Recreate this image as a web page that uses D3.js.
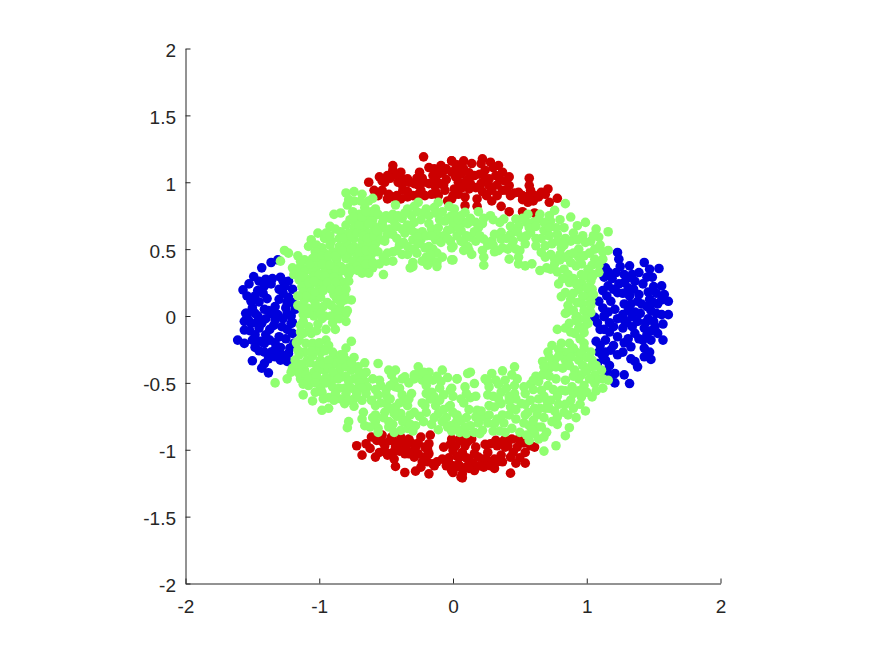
<!DOCTYPE html>
<html><head><meta charset="utf-8">
<script src="https://cdn.jsdelivr.net/npm/d3@7"></script>
<style>html,body{margin:0;padding:0;background:#fff;overflow:hidden}</style>
</head><body><svg id="c" width="875" height="656"></svg>
<script>
const xTicks=[-2,-1,0,1,2];
const yTicks=[-2,-1.5,-1,-0.5,0,0.5,1,1.5,2];
const bluePoints=[[-1.43,0.36],[-1.36,0.40],[-1.31,0.42],[-1.49,0.295],[-1.525,0.24],[-1.57,0.195],[-1.40,0.275],[-1.29,0.29],[-1.23,0.26],[-1.46,0.19],[-1.41,0.225],[-1.30,0.20],[-1.20,0.20],[-1.51,0.11],[-1.45,0.105],[-1.30,0.125],[-1.23,0.14],[-1.18,0.05],[-1.25,0.06],[-1.54,0.02],[-1.46,0.00],[-1.38,0.04],[-1.31,0.01],[-1.21,0.00],[-1.55,0.02],[-1.48,0.02],[-1.36,0.02],[-1.24,0.02],[-1.51,-0.055],[-1.56,-0.105],[-1.43,-0.055],[-1.34,-0.07],[-1.21,-0.055],[-1.48,-0.14],[-1.40,-0.14],[-1.30,-0.155],[-1.61,-0.18],[-1.56,-0.205],[-1.48,-0.235],[-1.41,-0.27],[-1.36,-0.27],[-1.29,-0.235],[-1.19,-0.205],[-1.33,-0.305],[-1.23,-0.28],[-1.24,-0.34],[-1.50,-0.335],[-1.41,-0.355],[-1.43,-0.39],[-1.38,-0.425],[-1.41,-0.205],[-1.20,-0.13],[-1.29,-0.33],
[1.23,0.475],[1.24,0.425],[1.14,0.36],[1.32,0.375],[1.43,0.40],[1.47,0.35],[1.54,0.355],[1.49,0.29],[1.13,0.29],[1.22,0.325],[1.28,0.31],[1.39,0.325],[1.56,0.225],[1.58,0.16],[1.42,0.24],[1.24,0.24],[1.16,0.225],[1.12,0.19],[1.31,0.21],[1.61,0.11],[1.53,0.09],[1.47,0.125],[1.39,0.16],[1.32,0.15],[1.23,0.175],[1.09,0.11],[1.18,0.11],[1.28,0.09],[1.41,0.09],[1.61,0.01],[1.56,0.01],[1.48,0.04],[1.36,0.03],[1.27,0.01],[1.13,0.00],[1.21,0.05],[1.06,-0.01],[1.13,-0.005],[1.23,-0.02],[1.34,-0.005],[1.46,-0.02],[1.57,-0.06],[1.10,-0.10],[1.34,-0.08],[1.43,-0.09],[1.51,-0.08],[1.57,-0.18],[1.23,-0.155],[1.14,-0.18],[1.07,-0.19],[1.31,-0.17],[1.39,-0.17],[1.48,-0.18],[1.09,-0.27],[1.18,-0.255],[1.27,-0.27],[1.47,-0.27],[1.48,-0.325],[1.33,-0.32],[1.38,-0.38],[1.43,-0.305],[1.17,-0.37],[1.21,-0.43],[1.17,-0.47],[1.21,-0.50],[1.28,-0.44],[1.32,-0.505],[1.08,-0.355],[1.14,-0.33],[1.30,-0.05],[1.45,-0.14],[1.20,-0.08],
[-1.35,0.28],[-1.27,0.26],[-1.36,0.24],[-1.26,0.22],[-1.45,0.26],[-1.42,0.17],[-1.48,0.15],[-1.54,0.15],[-1.39,0.13],[-1.27,0.17],[-1.24,0.10],[-1.33,0.07],[-1.41,0.05],[-1.50,0.06],[-1.20,0.10],[-1.53,-0.03],[-1.47,-0.05],[-1.40,-0.02],[-1.33,-0.03],[-1.27,-0.02],[-1.24,-0.10],[-1.28,-0.08],[-1.37,-0.10],[-1.45,-0.09],[-1.52,-0.11],[-1.50,-0.18],[-1.44,-0.19],[-1.37,-0.18],[-1.33,-0.20],[-1.25,-0.17],[-1.22,-0.24],[-1.33,-0.25],[-1.45,-0.26],[-1.38,-0.32],[-1.29,-0.28],[-1.20,-0.05],[-1.25,-0.30],[-1.56,-0.04],
[1.16,0.33],[1.19,0.28],[1.25,0.37],[1.30,0.28],[1.34,0.31],[1.28,0.25],[1.36,0.26],[1.45,0.29],[1.50,0.22],[1.52,0.17],[1.46,0.18],[1.35,0.20],[1.20,0.20],[1.15,0.15],[1.27,0.17],[1.33,0.09],[1.38,0.11],[1.45,0.07],[1.50,0.10],[1.56,0.12],[1.12,0.06],[1.16,0.03],[1.31,0.04],[1.40,0.02],[1.52,0.02],[1.44,-0.05],[1.38,-0.04],[1.28,-0.03],[1.17,-0.05],[1.08,-0.05],[1.13,-0.10],[1.17,-0.12],[1.27,-0.09],[1.36,-0.13],[1.48,-0.11],[1.53,-0.13],[1.50,-0.04],[1.42,-0.18],[1.28,-0.20],[1.20,-0.22],[1.10,-0.22],[1.14,-0.27],[1.23,-0.29],[1.33,-0.23],[1.43,-0.24],[1.36,-0.34],[1.15,-0.41],[1.12,-0.30]];
const redPoints=[[-0.22,1.19],[-0.63,1.00],[-0.55,1.04],[-0.49,1.05],[-0.45,1.125],[-0.45,1.09],[-0.39,1.075],[-0.34,1.025],[-0.41,1.00],[-0.51,1.00],[-0.59,0.94],[-0.53,0.94],[-0.45,0.89],[-0.375,0.94],[-0.30,0.90],[-0.24,0.94],[-0.25,1.075],[-0.18,1.11],[-0.09,1.125],[-0.01,1.16],[-0.11,1.06],[-0.01,1.075],[-0.18,0.99],[-0.10,0.99],[-0.21,0.90],[-0.11,0.90],[-0.04,0.86],[0.01,0.95],[-0.06,0.94],[-0.29,0.99],[0.04,1.00],[0.05,1.09],[-0.49,0.875],[-0.39,0.875],
[0.08,1.16],[0.14,1.14],[0.22,1.175],[0.21,1.14],[0.28,1.15],[0.34,1.125],[0.37,1.075],[0.42,1.04],[0.32,1.05],[0.16,1.05],[0.06,1.06],[0.27,1.025],[0.42,0.975],[0.57,1.03],[0.57,0.975],[0.71,0.95],[0.78,0.88],[0.66,0.925],[0.72,0.85],[0.57,0.90],[0.49,0.925],[0.56,0.85],[0.37,0.94],[0.29,0.94],[0.29,0.86],[0.43,0.90],[0.36,0.82],[0.42,0.78],[0.52,0.78],[0.61,0.77],[0.18,0.875],[0.09,0.89],[0.09,0.825],[0.18,0.82],[0.02,0.94],[0.13,0.99],[0.21,0.99],[0.06,0.99],[-0.01,1.16],[-0.01,0.875],[0.27,0.975],[0.61,0.90],
[-0.61,-0.905],[-0.53,-0.89],[-0.46,-0.905],[-0.39,-0.905],[-0.33,-0.92],[-0.24,-0.905],[-0.17,-0.89],[-0.01,-0.92],[0.05,-0.92],[-0.72,-0.97],[-0.65,-0.955],[-0.62,-0.99],[-0.68,-1.04],[-0.58,-1.055],[-0.51,-0.97],[-0.50,-1.02],[-0.43,-0.98],[-0.35,-0.99],[-0.29,-1.005],[-0.21,-0.98],[-0.18,-0.955],[-0.44,-1.07],[-0.43,-1.125],[-0.49,-1.04],[-0.36,-1.17],[-0.28,-1.16],[-0.24,-1.13],[-0.18,-1.18],[-0.21,-1.055],[-0.15,-1.105],[-0.08,-1.07],[-0.05,-1.12],[-0.07,-0.98],[0.00,-1.17],[0.06,-1.205],[0.05,-1.055],[0.00,-1.005],[-0.29,-1.055],[-0.36,-1.03],
[0.06,-0.93],[0.14,-0.92],[0.32,-0.93],[0.39,-0.92],[0.49,-0.92],[0.58,-0.97],[0.61,-0.98],[0.54,-1.02],[0.48,-0.98],[0.39,-0.98],[0.28,-0.955],[0.26,-1.02],[0.17,-0.98],[0.09,-0.97],[0.03,-1.05],[0.12,-1.07],[0.19,-1.055],[0.31,-1.07],[0.36,-1.04],[0.43,-1.055],[0.47,-1.10],[0.54,-1.10],[0.23,-1.13],[0.31,-1.14],[0.16,-1.155],[0.43,-1.175],[0.02,-1.13],[0.07,-1.18],[0.07,-1.21],[-0.01,-1.155],[0.23,-1.07],[0.11,-1.12],
[-0.47,1.03],[-0.53,1.01],[-0.42,1.05],[-0.37,1.02],[-0.33,1.00],[-0.38,0.98],[-0.34,0.93],[-0.27,1.03],[-0.23,1.03],[-0.22,1.00],[-0.26,0.98],[-0.14,1.10],[-0.15,1.05],[-0.13,1.02],[-0.08,1.07],[-0.05,1.10],[-0.05,1.02],[-0.14,0.98],[-0.07,0.98],[-0.13,0.93],[-0.16,0.91],[-0.26,0.91],[-0.34,0.89],[0.00,0.90],[0.04,0.91],[0.02,1.04],[0.02,1.10],[0.03,1.13],[0.08,1.10],[0.12,1.07],[0.20,1.06],[0.24,1.09],[0.30,1.11],[0.35,1.02],[0.39,1.01],[0.33,0.98],[0.24,1.03],[0.22,0.93],[0.25,0.90],[0.33,0.90],[0.40,0.94],[0.46,0.92],[0.52,0.90],[0.52,0.87],[0.60,0.86],[0.64,0.89],[0.69,0.91],[0.17,0.96],[0.12,0.95],[0.07,0.96],[0.12,1.03],[0.10,1.01],[0.58,0.94],[-0.48,0.91],[-0.42,0.90],[-0.56,0.90],
[-0.57,-0.93],[-0.53,-0.94],[-0.44,-0.94],[-0.40,-0.95],[-0.36,-0.94],[-0.31,-0.95],[-0.26,-0.95],[-0.28,-0.98],[-0.40,-1.01],[-0.33,-1.03],[-0.26,-1.03],[-0.19,-1.00],[-0.18,-1.03],[-0.45,-1.02],[-0.55,-1.02],[-0.47,-0.93],[-0.19,-1.09],[-0.23,-1.09],[-0.12,-1.09],[-0.02,-0.96],[-0.03,-1.10],[0.00,-1.12],[0.04,-1.11],[0.06,-1.13],[0.10,-1.06],[0.07,-1.02],[0.11,-0.94],[0.16,-1.03],[0.24,-0.96],[0.26,-1.08],[0.33,-0.97],[0.37,-0.94],[0.41,-0.97],[0.44,-0.92],[0.53,-0.95],[0.45,-1.02],[0.37,-1.09],[0.33,-1.09],[0.28,-1.12],[0.20,-1.12],[0.15,-1.10],[0.12,-1.14],[0.02,-0.97],[-0.03,-1.06],[-0.14,-1.12],[0.50,-1.06]];
const greenPoints=[[-0.80,0.92],[-0.74,0.93],[-0.68,0.91],[-0.60,0.88],[-0.78,0.87],[-0.63,0.86],[-0.79,0.83],[-0.66,0.81],[-0.58,0.80],[-0.43,0.83],[-0.26,0.85],[-0.11,0.85],[-0.34,0.80],[-0.20,0.80],[-0.14,0.81],[-0.29,0.82],[-0.89,0.76],[-0.84,0.77],[-0.75,0.78],[-0.70,0.76],[-0.63,0.75],[-0.50,0.75],[-0.31,0.75],[-0.22,0.77],[-0.01,0.75],[-0.04,0.73],[-0.67,0.71],[-0.60,0.72],[-0.44,0.71],[-0.38,0.73],[-0.47,0.73],[-0.06,0.71],[-0.18,0.69],[-0.53,0.69],[-0.72,0.70],[-0.92,0.67],[-0.80,0.68],[-0.74,0.66],[-0.66,0.66],[-0.59,0.67],[-0.52,0.66],[-0.47,0.65],[-0.16,0.65],[-0.11,0.66],[-1.01,0.62],[-0.84,0.63],[-0.78,0.62],[-0.70,0.63],[-0.63,0.62],[-0.56,0.62],[-0.49,0.61],[-0.36,0.62],[-0.28,0.62],[-0.23,0.63],[-0.12,0.61],[-0.04,0.64],[-0.07,0.60],[-1.06,0.57],[-0.96,0.58],[-0.91,0.56],[-0.85,0.58],[-0.79,0.56],[-0.74,0.58],[-0.68,0.56],[-0.61,0.57],[-0.58,0.54],[-0.30,0.57],[-0.24,0.57],[-0.13,0.57],[-0.09,0.55],[-0.02,0.56],[-1.08,0.52],[-1.02,0.53],[-0.98,0.51],[-0.92,0.53],[-0.85,0.52],[-0.80,0.53],[-0.74,0.52],[-0.69,0.51],[-0.64,0.53],[-0.40,0.53],[-0.18,0.52],[-0.21,0.51],[0.00,0.52],[-1.26,0.49],[-1.23,0.47],[-1.16,0.45],[-1.03,0.48],[-0.96,0.47],[-0.90,0.48],[-0.85,0.46],[-0.78,0.47],[-0.72,0.46],[-0.66,0.46],[-0.61,0.46],[-0.45,0.48],[-0.38,0.46],[-0.34,0.46],[-0.27,0.47],[-0.20,0.44],[-1.29,0.41],[-1.11,0.42],[-1.05,0.43],[-1.00,0.42],[-0.94,0.41],[-0.87,0.42],[-0.80,0.43],[-0.75,0.41],[-0.69,0.41],[-0.63,0.42],[-0.50,0.41],[-0.45,0.41],[-0.30,0.40],[-0.23,0.41],[-0.15,0.41],[-0.12,0.40],[0.00,0.42],[-1.20,0.36],[-1.14,0.37],[-1.08,0.36],[-1.02,0.37],[-0.96,0.36],[-0.90,0.37],[-0.84,0.37],[-0.78,0.36],[-0.72,0.37],[-0.66,0.36],[-0.60,0.36],[-0.30,0.37],[-0.19,0.38],[-0.12,0.37],[-0.32,0.36],[-1.19,0.31],[-1.11,0.33],[-1.05,0.33],[-0.92,0.32],[-0.86,0.31],[-0.78,0.31],[-0.68,0.32],[-0.63,0.32],[-0.52,0.31],[-1.15,0.27],[-1.10,0.28],[-0.98,0.27],[-0.92,0.28],[-0.85,0.27],[-0.82,0.25],[-0.78,0.26],[-1.13,0.22],[-1.07,0.22],[-1.01,0.24],[-0.96,0.23],[-0.87,0.23],[-1.12,0.18],[-1.06,0.18],[-1.00,0.19],[-0.81,0.16],[-0.76,0.12],[-0.94,0.10],[-1.09,0.06],[-1.11,0.12],[-1.05,0.13],[-0.99,0.14],[-0.87,0.13],[-0.81,0.12],[-1.06,0.05],[-1.01,0.05],[-0.88,0.05],[-0.84,0.05],[-0.79,0.04],[-1.12,0.01],[-1.04,0.00],[-0.96,0.00],
[-1.11,0.01],[-0.91,0.00],[-0.80,0.02],[-0.80,-0.04],[-1.14,-0.07],[-1.06,-0.13],[-0.95,-0.10],[-0.88,-0.10],[-1.01,-0.06],[-1.10,-0.205],[-1.05,-0.205],[-0.95,-0.18],[-0.93,-0.22],[-0.76,-0.19],[-0.80,-0.24],[-1.16,-0.255],[-1.11,-0.27],[-0.99,-0.27],[-0.89,-0.29],[-0.74,-0.31],[-1.18,-0.33],[-1.09,-0.33],[-0.99,-0.33],[-0.89,-0.355],[-0.80,-0.33],[-0.66,-0.35],[-0.71,-0.38],[-0.56,-0.355],[-1.20,-0.39],[-1.11,-0.405],[-1.04,-0.42],[-0.96,-0.405],[-0.86,-0.42],[-0.76,-0.405],[-0.65,-0.42],[-0.48,-0.405],[-0.43,-0.405],[-0.26,-0.38],[-0.18,-0.42],[-0.08,-0.405],[-1.24,-0.47],[-1.33,-0.50],[-1.14,-0.47],[-1.06,-0.47],[-0.99,-0.48],[-0.90,-0.47],[-0.83,-0.455],[-0.74,-0.47],[-0.66,-0.49],[-0.46,-0.44],[-0.44,-0.49],[-0.36,-0.455],[-0.29,-0.44],[-0.23,-0.48],[-0.15,-0.48],[-0.09,-0.49],[-0.04,-0.46],[0.03,-0.47],[-1.08,-0.52],[-0.99,-0.54],[-0.90,-0.53],[-0.81,-0.54],[-0.71,-0.54],[-0.64,-0.53],[-0.54,-0.52],[-0.43,-0.53],[-0.20,-0.52],[-0.16,-0.57],[-0.01,-0.54],[-1.12,-0.59],[-1.05,-0.635],[-0.93,-0.61],[-0.84,-0.62],[-0.74,-0.62],[-0.65,-0.58],[-0.56,-0.59],[-0.50,-0.59],[-0.38,-0.59],[-0.23,-0.65],[-0.14,-0.605],[0.00,-0.60],[-0.81,-0.655],[-0.74,-0.675],[-0.58,-0.67],[-0.50,-0.655],[-0.43,-0.68],[-0.34,-0.67],[-0.13,-0.67],[-0.03,-0.68],[-0.36,-0.63],[-0.98,-0.705],[-0.93,-0.69],[-0.67,-0.72],[-0.58,-0.74],[-0.51,-0.72],[-0.39,-0.73],[-0.29,-0.72],[-0.20,-0.72],[-0.11,-0.73],[0.03,-0.74],[-0.78,-0.79],[-0.79,-0.835],[-0.66,-0.82],[-0.68,-0.77],[-0.58,-0.79],[-0.48,-0.79],[-0.375,-0.79],[-0.28,-0.82],[-0.08,-0.79],[-0.04,-0.83],[0.02,-0.80],[-0.56,-0.84],[-0.48,-0.83],[-0.39,-0.855],[-0.34,-0.84],[-0.62,-0.83],
[0.84,0.02],[0.93,-0.005],[1.03,0.025],[0.84,-0.09],[0.91,-0.13],[0.98,-0.08],[0.98,-0.125],[0.87,-0.055],[1.01,-0.055],[0.81,-0.205],[0.87,-0.205],[0.98,-0.205],[0.98,-0.24],[0.71,-0.27],[0.83,-0.27],[0.92,-0.27],[1.03,-0.27],[0.67,-0.34],[0.76,-0.33],[0.84,-0.33],[0.94,-0.33],[1.04,-0.33],[1.11,-0.405],[1.03,-0.38],[0.72,-0.39],[0.82,-0.39],[0.91,-0.405],[0.96,-0.44],[0.67,-0.44],[0.77,-0.47],[0.84,-0.48],[0.58,-0.51],[0.64,-0.49],[1.16,-0.48],[1.12,-0.54],[1.06,-0.505],[0.98,-0.52],[0.89,-0.53],[0.81,-0.555],[0.71,-0.52],[0.66,-0.555],[1.04,-0.605],[0.96,-0.605],[0.88,-0.63],[0.73,-0.63],[0.64,-0.62],[0.54,-0.58],[0.46,-0.58],[0.36,-0.57],[0.26,-0.59],[0.13,-0.61],[0.99,-0.71],[0.92,-0.76],[0.83,-0.72],[0.78,-0.755],[0.69,-0.69],[0.61,-0.69],[0.51,-0.655],[0.43,-0.68],[0.36,-0.655],[0.27,-0.67],[0.12,-0.70],[0.18,-0.705],[-0.02,-0.67],[0.78,-0.81],[0.87,-0.835],[0.84,-0.895],[0.77,-0.97],[0.68,-1.01],[0.68,-0.905],[0.63,-0.83],[0.57,-0.82],[0.54,-0.74],[0.63,-0.74],[0.42,-0.74],[0.33,-0.77],[0.23,-0.755],[0.17,-0.755],[0.03,-0.75],[-0.02,-0.82],[0.09,-0.83],[0.22,-0.855],[0.39,-0.87],[0.57,-0.93],[0.64,-0.92],[0.61,-0.88],[0.31,-0.805],[0.13,-0.82],[0.03,-0.84],[0.16,-0.87],[0.46,-0.38],[0.37,-0.41],[0.29,-0.43],[0.24,-0.47],[0.13,-0.42],[0.11,-0.43],[0.03,-0.47],[0.09,-0.53],[0.16,-0.505],[0.26,-0.49],[0.32,-0.48],[0.39,-0.48],[0.48,-0.47],[0.44,-0.44],[-0.02,-0.555],[0.68,-0.43],[0.73,-0.37],
[0.84,0.84],[0.76,0.79],[0.88,0.74],[0.99,0.70],[1.07,0.65],[1.16,0.63],[1.09,0.59],[0.93,0.675],[0.83,0.66],[0.73,0.71],[0.64,0.725],[0.56,0.76],[0.47,0.725],[0.38,0.725],[0.28,0.75],[0.19,0.78],[0.08,0.70],[0.17,0.70],[0.01,0.80],[0.01,0.75],[0.09,0.775],[0.22,0.69],[0.13,0.59],[0.23,0.575],[0.08,0.55],[0.36,0.625],[0.43,0.61],[0.51,0.59],[0.58,0.625],[0.68,0.64],[0.78,0.61],[0.88,0.56],[0.97,0.60],[1.03,0.56],[1.16,0.49],[-0.01,0.65],[-0.01,0.51],[0.36,0.575],[0.12,0.49],[0.14,0.46],[0.22,0.49],[0.31,0.48],[0.37,0.51],[0.44,0.525],[0.50,0.49],[0.62,0.525],[0.69,0.525],[0.81,0.51],[0.94,0.50],[1.06,0.50],[0.87,0.46],[-0.01,0.42],[0.23,0.38],[0.23,0.44],[0.42,0.425],[0.49,0.44],[0.49,0.39],[0.54,0.375],[0.59,0.39],[0.66,0.475],[0.69,0.44],[0.76,0.425],[0.84,0.44],[0.94,0.44],[1.06,0.425],[1.12,0.425],[0.65,0.34],[0.73,0.35],[0.83,0.35],[0.92,0.375],[1.01,0.35],[1.09,0.325],[0.79,0.24],[0.87,0.25],[0.96,0.25],[1.03,0.26],[1.04,0.20],[0.94,0.20],[0.81,0.145],[0.84,0.175],[0.93,0.10],[1.01,0.15],[0.88,0.125],[0.85,0.025],[0.92,-0.01],[1.02,0.03],
[-1.14,0.41],[-1.17,0.33],[-1.13,0.30],[-1.07,0.39],[-1.03,0.44],[-0.98,0.45],[-0.93,0.45],[-0.88,0.45],[-0.83,0.49],[-0.76,0.50],[-0.70,0.48],[-0.65,0.49],[-0.60,0.50],[-0.56,0.48],[-0.98,0.39],[-0.92,0.38],[-0.87,0.34],[-0.82,0.34],[-0.76,0.34],[-0.71,0.34],[-0.65,0.39],[-0.60,0.40],[-0.55,0.39],[-1.04,0.30],[-1.00,0.31],[-0.96,0.30],[-0.89,0.29],[-1.08,0.25],[-1.04,0.26],[-0.94,0.25],[-0.88,0.25],[-1.10,0.15],[-1.16,0.15],[-1.16,0.08],[-1.13,0.06],[-1.03,0.09],[-0.97,0.07],[-0.91,0.08],[-0.84,0.10],[-0.89,0.16],[-0.84,0.15],[-1.03,0.18],[-0.97,0.19],[-0.91,0.20],[-0.85,0.19],[-0.80,0.20],[-0.99,0.02],[-1.08,0.02],[-0.86,0.00],
[-0.95,0.62],[-0.92,0.60],[-0.88,0.65],[-0.82,0.58],[-0.76,0.60],[-0.72,0.62],[-0.67,0.60],[-0.64,0.58],[-0.59,0.60],[-0.54,0.57],[-0.51,0.56],[-0.70,0.68],[-0.63,0.69],[-0.57,0.64],[-0.77,0.72],[-0.74,0.74],[-0.68,0.74],[-0.61,0.78],[-0.65,0.78],[-0.74,0.86],[-0.69,0.86],[-0.56,0.76],[-0.52,0.72],[-0.45,0.76],[-0.41,0.75],[-0.36,0.77],[-0.27,0.78],[-0.18,0.75],[-0.13,0.77],[-0.08,0.78],[-0.03,0.82],[-0.24,0.72],[-0.29,0.70],[-0.34,0.68],[-0.42,0.67],[-0.38,0.65],[-0.31,0.64],[-0.26,0.59],[-0.20,0.60],[-0.16,0.60],[-0.45,0.61],[-0.42,0.58],[-0.37,0.55],[-0.34,0.52],[-0.29,0.50],[-0.26,0.54],[-0.42,0.49],[-0.49,0.47],[-0.52,0.44],[-0.15,0.50],[-0.12,0.47],[-0.08,0.44],[-0.17,0.46],[-0.04,0.58],[0.03,0.60],[0.06,0.64],[0.04,0.66],[0.00,0.70],[0.04,0.72],[-0.10,0.72],
[0.06,0.75],[0.13,0.73],[0.11,0.69],[0.19,0.66],[0.16,0.63],[0.10,0.60],[0.06,0.56],[0.17,0.56],[0.20,0.60],[0.11,0.52],[0.08,0.49],[0.26,0.53],[0.29,0.56],[0.31,0.61],[0.40,0.58],[0.45,0.56],[0.30,0.53],[0.34,0.49],[0.41,0.50],[0.47,0.50],[0.43,0.67],[0.35,0.70],[0.30,0.72],[0.23,0.73],[0.49,0.67],[0.55,0.70],[0.52,0.73],[0.60,0.70],[0.57,0.66],[0.62,0.67],[0.68,0.70],[0.72,0.66],[0.77,0.66],[0.80,0.72],[0.72,0.75],[0.65,0.76],[0.55,0.60],[0.48,0.63],[0.54,0.54],[0.66,0.58],[0.72,0.60],[0.62,0.58],[0.74,0.54],[0.78,0.56],[0.84,0.58],[0.83,0.53],[0.90,0.62],[0.93,0.57],[0.99,0.55],[1.05,0.60],[1.10,0.53],[1.12,0.48],[0.98,0.45],[1.02,0.47],[0.90,0.47],[0.80,0.46],[0.73,0.46],[0.76,0.39],[0.80,0.42],[0.88,0.40],[0.96,0.39],[1.04,0.38],[1.09,0.38],[0.70,0.36],[0.78,0.33],[0.86,0.31],[0.96,0.31],[1.05,0.31],[0.82,0.28],[0.90,0.28],[0.99,0.30],[1.04,0.29],[0.92,0.24],[1.00,0.21],[0.90,0.17],[0.97,0.15],[1.05,0.16],[1.03,0.11],[0.97,0.09],[0.86,0.08],[0.90,0.04],[0.98,0.04],[1.03,0.08],
[0.78,-0.10],[0.88,-0.12],[0.94,-0.09],[0.93,-0.04],[0.99,-0.02],[0.95,-0.17],[0.90,-0.24],[0.87,-0.27],[0.79,-0.25],[0.74,-0.22],[0.96,-0.28],[1.00,-0.31],[0.88,-0.31],[0.79,-0.30],[0.72,-0.31],[0.68,-0.38],[0.77,-0.38],[0.87,-0.37],[0.97,-0.37],[1.07,-0.37],[1.00,-0.41],[1.06,-0.44],[1.09,-0.47],[1.12,-0.47],[1.02,-0.47],[0.94,-0.47],[0.90,-0.45],[0.72,-0.45],[0.62,-0.45],[0.60,-0.48],[0.53,-0.53],[0.60,-0.55],[0.68,-0.60],[0.75,-0.55],[0.78,-0.60],[0.84,-0.56],[0.90,-0.58],[0.94,-0.56],[1.00,-0.57],[1.07,-0.56],[0.84,-0.66],[0.79,-0.66],[0.70,-0.63],[0.58,-0.63],[0.54,-0.66],[0.47,-0.62],[0.42,-0.60],[0.34,-0.62],[0.30,-0.60],[0.31,-0.68],[0.42,-0.63],[0.47,-0.70],[0.56,-0.72],[0.65,-0.69],[0.72,-0.69],[0.76,-0.71],[0.86,-0.74],[0.90,-0.69],[0.95,-0.66],[0.60,-0.78],[0.68,-0.76],[0.74,-0.79],[0.66,-0.83],[0.70,-0.87],[0.59,-0.85],[0.53,-0.80],[0.47,-0.77],[0.38,-0.80],[0.27,-0.74],[0.21,-0.71],[0.37,-0.74],[0.26,-0.80],[0.19,-0.80],[0.10,-0.76],
[0.06,-0.78],[0.00,-0.72],[-0.05,-0.76],[-0.01,-0.86],[0.05,-0.87],[0.10,-0.88],[0.20,-0.88],[0.30,-0.86],[0.35,-0.86],[0.44,-0.84],[0.50,-0.87],[0.55,-0.89],[0.08,-0.65],[0.06,-0.62],[0.17,-0.60],[0.10,-0.58],[0.27,-0.53],[0.34,-0.51],[0.40,-0.54],[0.46,-0.52],[-0.10,-0.54],[-0.07,-0.59],[-0.10,-0.63],[-0.17,-0.62],[-0.20,-0.58],[-0.21,-0.67],[-0.07,-0.70],[-0.14,-0.76],[-0.16,-0.81],[-0.11,-0.85],[-0.22,-0.79],[-0.25,-0.75],[-0.32,-0.74],[-0.35,-0.78],[-0.42,-0.75],[-0.44,-0.73],[-0.47,-0.69],[-0.40,-0.65],[-0.33,-0.62],[-0.31,-0.58],[-0.47,-0.62],[-0.54,-0.65],[-0.61,-0.63],[-0.68,-0.63],[-0.58,-0.55],[-0.50,-0.55],[-0.47,-0.52],[-0.60,-0.47],[-0.55,-0.48],[-0.40,-0.54],[-0.38,-0.47],[-0.33,-0.50],[-0.25,-0.43],[-0.22,-0.42],[-0.29,-0.47],[-0.12,-0.45],[-0.19,-0.47],[-0.44,-0.87],[-0.56,-0.87],[-0.60,-0.76],[-0.45,-0.81],[-0.52,-0.76],[-0.32,-0.81],[-0.30,-0.86],
[-1.21,-0.42],[-1.17,-0.37],[-1.15,-0.43],[-1.13,-0.36],[-1.15,-0.29],[-1.07,-0.35],[-1.05,-0.30],[-1.02,-0.37],[-1.00,-0.40],[-0.97,-0.36],[-0.93,-0.33],[-0.93,-0.39],[-0.84,-0.33],[-0.84,-0.39],[-0.80,-0.38],[-0.90,-0.42],[-0.80,-0.45],[-0.76,-0.35],[-0.70,-0.42],[-0.67,-0.44],[-0.72,-0.47],[-1.10,-0.44],[-1.08,-0.47],[-1.02,-0.45],[-0.95,-0.46],[-0.86,-0.47],[-0.78,-0.49],[-0.70,-0.50],[-1.12,-0.51],[-1.03,-0.50],[-0.95,-0.50],[-0.85,-0.54],[-0.76,-0.54],[-0.68,-0.54],[-1.03,-0.57],[-0.98,-0.57],[-0.88,-0.58],[-0.80,-0.58],[-0.72,-0.58],[-0.97,-0.62],[-0.89,-0.63],[-0.78,-0.63],[-0.99,-0.24],[-0.96,-0.26],[-1.03,-0.26],[-1.06,-0.26],[-1.00,-0.20],[-0.90,-0.27],[-0.84,-0.29],[-0.82,-0.29],[-1.12,-0.13],[-1.15,-0.18],[-1.12,-0.04],[-1.08,-0.08],[-1.02,-0.11],[-0.98,-0.02],[-0.90,-0.05],[-0.85,-0.02],[-1.14,-0.12],[-1.17,-0.20]];

const x=d3.scaleLinear().domain([-2,2]).range([185.5,720.5]);
const y=d3.scaleLinear().domain([-2,2]).range([583.5,48.5]);
const svg=d3.select('#c');
const ink='#262626';
function dots(data,fill){
  svg.append('g').selectAll('circle').data(data).join('circle')
    .attr('cx',d=>x(d[0])).attr('cy',d=>y(d[1])).attr('r',4.8).attr('fill',fill);
}
dots(bluePoints,'#0000dd');
dots(redPoints,'#cc0000');
dots(greenPoints,'#90ff70');
const gx=svg.append('g').attr('transform','translate(0,583.5)')
  .call(d3.axisBottom(x).tickValues(xTicks).tickFormat(d=>String(d)).tickSizeInner(-5).tickSizeOuter(0).tickPadding(16));
const gy=svg.append('g').attr('transform','translate(185.5,0)')
  .call(d3.axisLeft(y).tickValues(yTicks).tickFormat(d=>String(d)).tickSizeInner(-5).tickSizeOuter(0).tickPadding(9.5));
gy.selectAll('text').attr('dy','.42em');
[gx,gy].forEach(g=>{
  g.selectAll('path,line').attr('stroke',ink).attr('stroke-width',1);
  g.selectAll('text').attr('fill',ink).style('font-family','"Liberation Sans",Arial,sans-serif').style('font-size','19px');
});
</script></body></html>
